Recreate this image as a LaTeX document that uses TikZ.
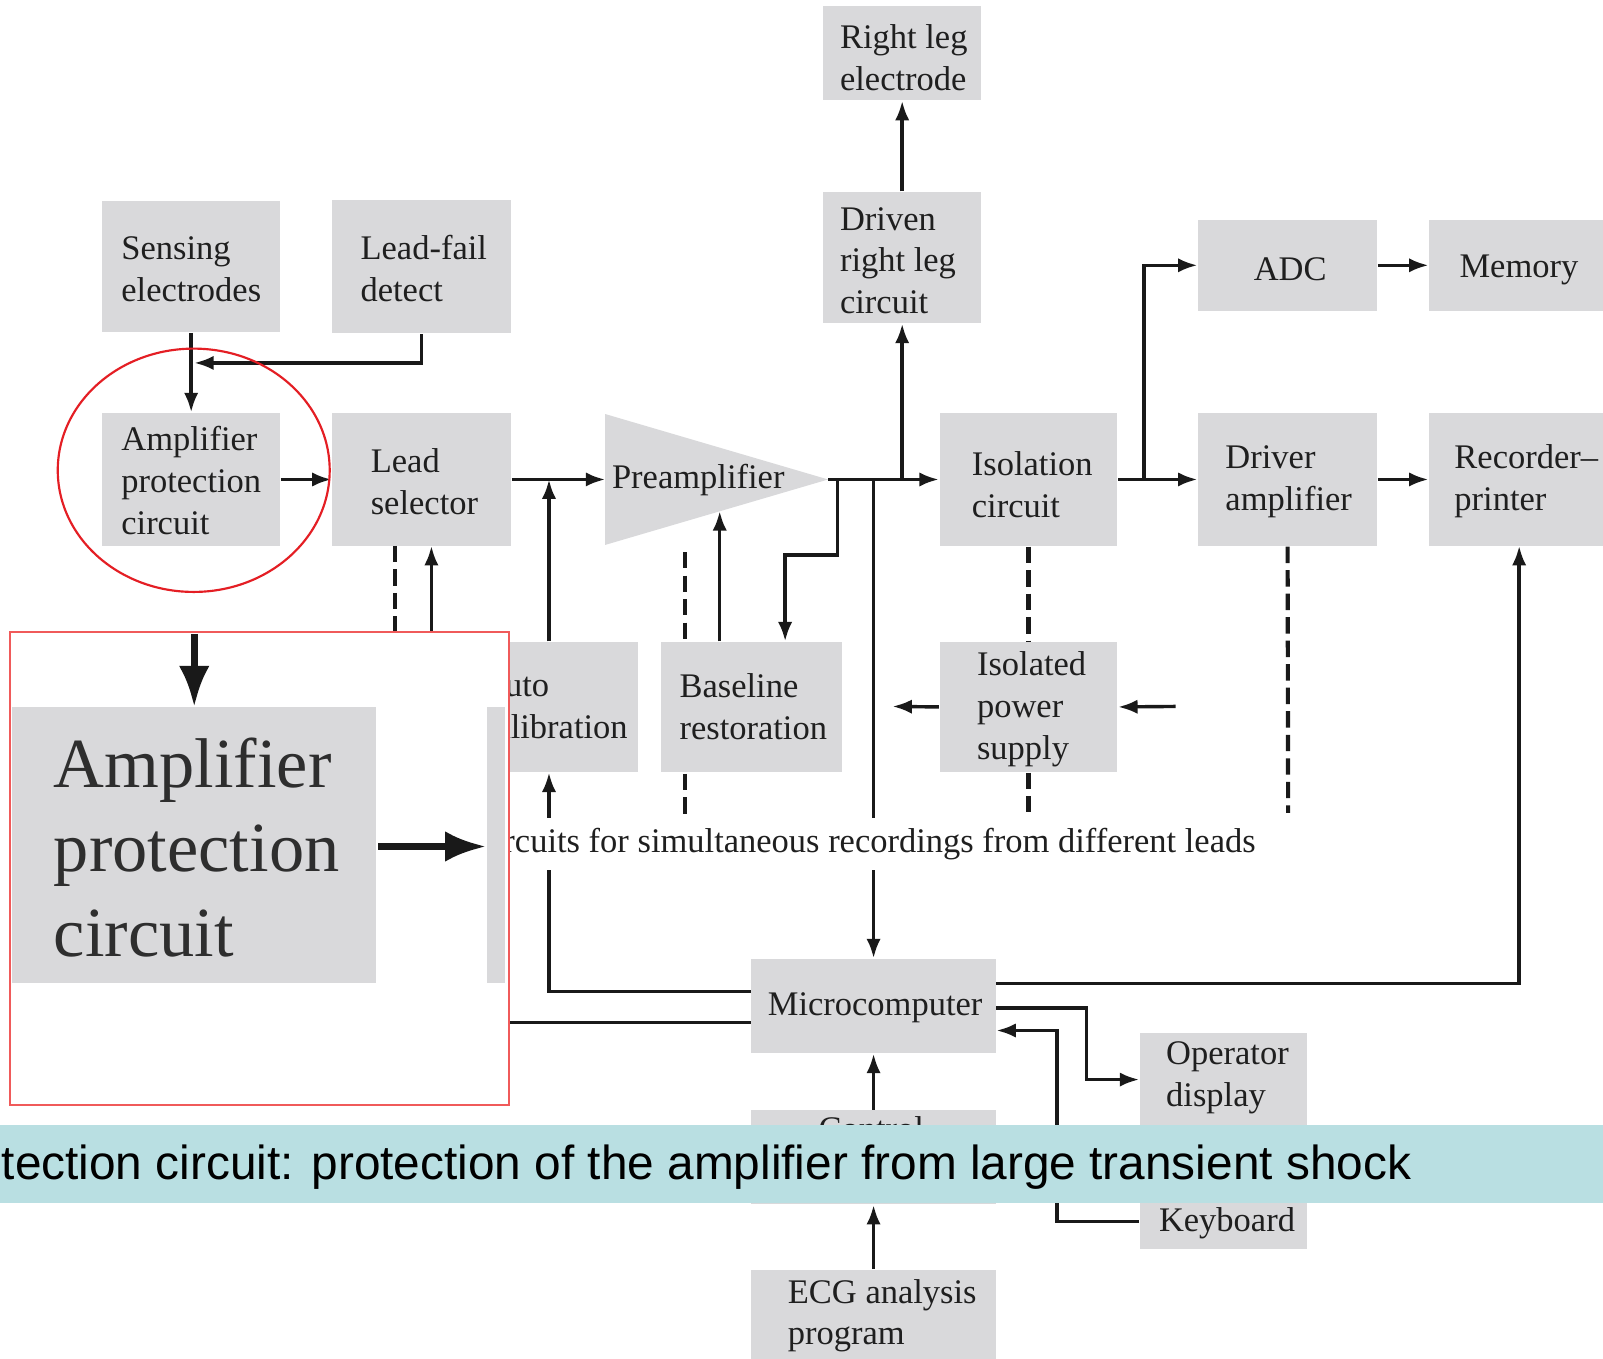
\documentclass[tikz,border=0pt]{standalone}
\usepackage{fontspec}
\setmainfont{Liberation Serif}
\newfontfamily\bannerfont{Liberation Sans}
\usetikzlibrary{arrows.meta,fit}
\definecolor{boxgray}{RGB}{217,217,219}
\definecolor{bannerc}{RGB}{185,223,226}
\definecolor{ellred}{RGB}{228,30,36}
\definecolor{insetred}{RGB}{240,90,90}
\begin{document}
\begin{tikzpicture}[x=0.1mm,y=-0.1mm,
  box/.style={fill=boxgray, draw=none, inner sep=0pt},
  txt/.style={font=\fontsize{9.6}{11.67}\selectfont, align=left, inner sep=0pt, anchor=west, text=black!88},
  bigtxt/.style={font=\fontsize{19.6}{23.6}\selectfont, align=left, inner sep=0pt, anchor=west, text=black!82},
  conn/.style={line width=0.95pt, draw=black!90},
  arr/.style={conn, -{Latex[length=1.9mm,width=1.4mm]}},
  bigarr/.style={line width=1.9pt, draw=black!90, -{Latex[length=4mm,width=3mm]}},
  dashline/.style={line width=1.15pt, draw=black!90, dash pattern=on 1.6mm off 0.7mm},
]
\useasboundingbox (0,0) rectangle (1568,1329);
\fill[white] (0,0) rectangle (1568,1329);

% ---------- boxes ----------
\node[box, fit={(805,6) (960,98)}] (rle) {};
\node[box, fit={(805,188) (960,316)}] (drl) {};
\node[box, fit={(100,197) (274,325)}] (sens) {};
\node[box, fit={(325,196) (500,326)}] (lfd) {};
\node[box, fit={(1172,215) (1347,304)}] (adc) {};
\node[box, fit={(1398,215) (1568,304)}] (mem) {};
\node[box, fit={(100,404) (274,534)}] (apc) {};
\node[box, fit={(325,404) (500,534)}] (lsel) {};
\node[box, fit={(919,404) (1093,534)}] (iso) {};
\node[box, fit={(1172,404) (1347,534)}] (drv) {};
\node[box, fit={(1398,404) (1568,534)}] (rec) {};
\node[box, fit={(647,628) (824,755)}] (base) {};
\node[box, fit={(919,628) (1093,755)}] (ips) {};
\node[box, fit={(735,938) (974,1030)}] (mc) {};
\node[box, fit={(735,1086) (974,1178)}] (ctl) {};
\node[box, fit={(1115,1010) (1278,1110)}] (opd) {};
\node[box, fit={(1115,1150) (1278,1222)}] (kbd) {};
\node[box, fit={(735,1242) (974,1329)}] (ecg) {};
\fill[boxgray] (592,405) -- (810,469) -- (592,533) -- cycle;
\coordinate (preIn) at (592,469);
\coordinate (preOut) at (810,469);

% ---------- labels ----------
\node[txt] (rleT) at (821,56) {Right leg\\electrode};
\node[txt] (drlT) at (821,255) {Driven\\right leg\\circuit};
\node[txt] (sensT) at (118,263) {Sensing\\electrodes};
\node[txt] (lfdT) at (352,263) {Lead-fail\\detect};
\node[txt, anchor=center] (adcT) at (1262,263) {ADC};
\node[txt] (memT) at (1427,264) {Memory};
\node[txt] (apcT) at (118,470) {Amplifier\\protection\\circuit};
\node[txt] (lselT) at (362,471) {Lead\\selector};
\node[txt] (preT) at (598,470) {Preamplifier};
\node[txt] (isoT) at (950,474) {Isolation\\circuit};
\node[txt] (drvT) at (1198,471) {Driver\\amplifier};
\node[txt] (recT) at (1422,471) {Recorder–\\printer};
\node[txt] (baseT) at (664,691) {Baseline\\restoration};
\node[txt] (ipsT) at (955,694) {Isolated\\power\\supply};
\node[txt, anchor=center] (mcT) at (856,986) {Microcomputer};
\node[txt] (opdT) at (1140,1054) {Operator\\display};
\node[txt] (kbdT) at (1133,1197) {Keyboard};
\node[txt] (ecgT) at (770,1287) {ECG analysis\\program};
\begin{scope}
  \clip (0,0) rectangle (1568,1100);
  \node[txt, anchor=base west] (ctlT) at (800,1116) {Control};
\end{scope}

% ---------- partly hidden (left of inset) ----------
\begin{scope}
  \clip (498,0) rectangle (1568,1329);
  \node[box, fit={(450,628) (624,755)}] (acal) {};
  \node[txt] (acalT) at (469,691) {Auto\\calibration};
  \node[txt, anchor=base east] (circT) at (1229,834) {Circuits for simultaneous recordings from different leads};
\end{scope}

% ---------- helper coordinates ----------
\coordinate (lf1) at (412.5,355);
\coordinate (lf2) at (190,355);
\coordinate (jA) at (537,469);
\coordinate (k1) at (819,469);
\coordinate (k2) at (819,543);
\coordinate (k3) at (768,543);
\coordinate (jC) at (854.5,469);
\coordinate (jD) at (1119,469);
\coordinate (gTop) at (854.5,800);
\coordinate (gBot) at (854.5,851);
\coordinate (aTop) at (537,800);
\coordinate (aBot) at (537,851);
\coordinate (yM1) at (537,970);
\coordinate (yM2) at (422,1000);
\coordinate (xL) at (422,534);
\coordinate (xLd) at (386,534);
\coordinate (xLdE) at (386,800);
\coordinate (pd1) at (670,540);
\coordinate (pd2) at (670,628);
\coordinate (pd3) at (670,757);
\coordinate (pd4) at (670,800);
\coordinate (bTip) at (704,500);
\coordinate (isoD) at (1006,800);
\coordinate (drvD) at (1260,795);
\coordinate (ipsL) at (873,691);
\coordinate (ipsR) at (1150,691);
\coordinate (r1) at (1486,962);
\coordinate (r2) at (1486,534);
\coordinate (o1) at (1063,986);
\coordinate (o2) at (1063,1056);
\coordinate (kb1) at (1034,1195);
\coordinate (kb2) at (1034,1008);

% ---------- connectors ----------
\draw[arr] (sens.south) -- (apc.north);
\draw[arr] (lfd.south) -- (lf1) -- (lf2);
\draw[arr] (apc.east) -- (lsel.west);
\draw[arr] (lsel.east) -- (preIn);
\draw[arr] (acal.north -| jA) -- (jA);
\draw[arr] (preOut) -- (iso.west);
\draw[arr] (preOut) -- (k1) -- (k2) -- (k3) -- (base.north -| k3);
\draw[arr] (drl.south |- preOut) -- (drl.south);
\draw[arr] (drl.north) -- (rle.south);
\draw[conn] (jC) -- (gTop);
\draw[arr] (gBot) -- (mc.north);
\draw[conn] (mc.west |- yM1) -- (yM1) -- (aBot);
\draw[arr] (aTop) -- (acal.south -| jA);
\draw[arr] (mc.west |- yM2) -- (yM2) -- (xL);
\draw[dashline] (xLd) -- (xLdE);
\draw[dashline] (pd1) -- (pd2);
\draw[dashline] (pd3) -- (pd4);
\draw[arr] (base.north -| bTip) -- (bTip);
\draw[arr] (iso.east) -- (drv.west);
\draw[arr] (jD) -- (jD |- adc.west) -- (adc.west);
\draw[arr] (adc.east) -- (mem.west);
\draw[arr] (drv.east) -- (rec.west);
\draw[dashline] (iso.south) -- (ips.north);
\draw[dashline] (ips.south) -- (isoD);
\draw[dashline] (drv.south) -- (drvD);
\draw[arr] (ips.west) -- (ipsL);
\draw[arr] (ipsR) -- (ips.east);
\draw[arr] (mc.east |- r1) -- (r1) -- (r2);
\draw[arr] (mc.east |- o1) -- (o1) -- (o2) -- (opd.west |- o2);
\draw[arr] (kbd.west |- kb1) -- (kb1) -- (kb2) -- (mc.east |- kb2);
\draw[arr] (ctl.north) -- (mc.south);
\draw[arr] (ecg.north) -- (ctl.south);

% ---------- highlight ellipse ----------
\draw[ellred, line width=0.6pt] (189.5,460) ellipse [x radius=133, y radius=119];

% ---------- magnified inset ----------
\node[draw=insetred, line width=0.5pt, fill=white, inner sep=0pt, fit={(10,618) (498,1081)}] (inset) {};
\node[box, fit={(12,692) (368,962)}] (zApc) {};
\node[box, fit={(476,692) (494,962)}] (zLsel) {};
\node[bigtxt] (zApcT) at (52,829) {Amplifier\\protection\\circuit};
\coordinate (zIn) at (190,620);
\coordinate (zOut) at (370,828);
\draw[bigarr] (zIn) -- (zApc.north -| zIn);
\draw[bigarr] (zOut) -- (zLsel.west |- zOut);

% ---------- caption banner ----------
\fill[bannerc] (0,1100) rectangle (1568,1177);
\node[anchor=base west, inner sep=0pt, font=\bannerfont\fontsize{13.3}{16}\selectfont] (bannerT) at (1,1154) {tection circuit: protection of the amplifier from large transient shock};
\end{tikzpicture}
\end{document}
